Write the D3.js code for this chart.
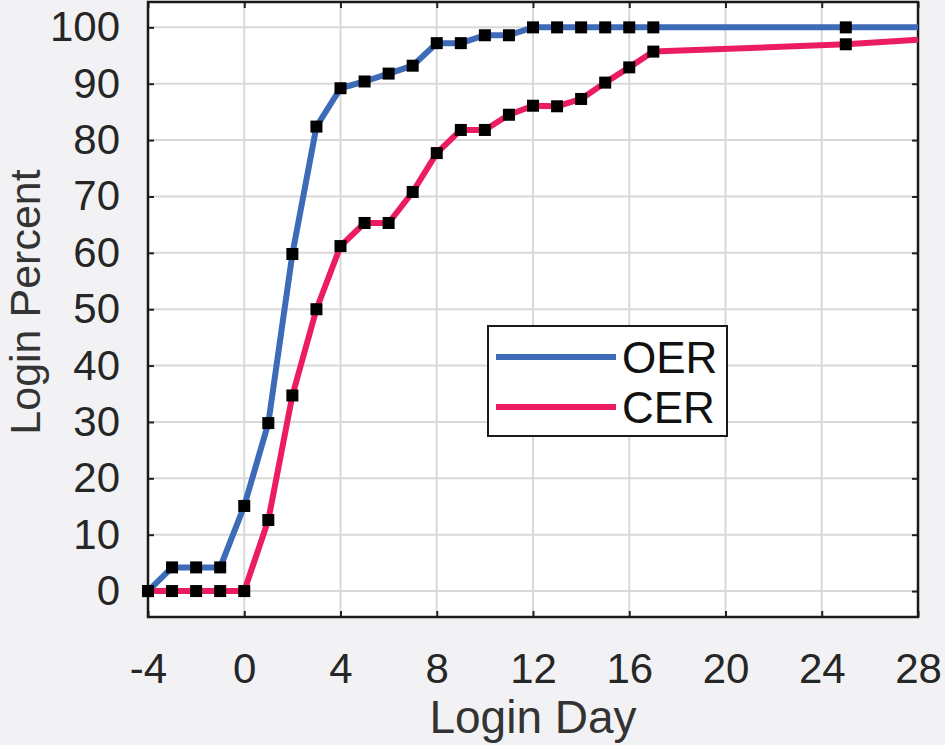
<!DOCTYPE html>
<html>
<head>
<meta charset="utf-8">
<script src="https://cdn.jsdelivr.net/npm/d3@7"></script>
<style>
  body { margin: 0; background: #f2f2f4; }
  svg { display: block; font-family: "Liberation Sans", Arial, sans-serif; }
</style>
</head>
<body>
<div id="chart"></div>
<script>
// data
const days = [-4, -3, -2, -1, 0, 1, 2, 3, 4, 5, 6, 7, 8, 9, 10, 11, 12, 13, 14, 15, 16, 17, 25, 28];
const oer = [0, 4.2, 4.2, 4.2, 15.1, 29.8, 59.8, 82.4, 89.2, 90.4, 91.8, 93.2, 97.2, 97.2, 98.6, 98.6, 100, 100, 100, 100, 100, 100, 100, 100];
const cer = [0, 0, 0, 0, 0, 12.6, 34.7, 50, 61.2, 65.3, 65.3, 70.8, 77.7, 81.8, 81.8, 84.5, 86.1, 86.0, 87.3, 90.2, 92.9, 95.7, 97.0, 97.8];
// the last point (day 28) has no marker in the original
const markerCount = days.length - 1;
const xTicks = [-4, 0, 4, 8, 12, 16, 20, 24, 28];
const yTicks = [0, 10, 20, 30, 40, 50, 60, 70, 80, 90, 100];
const seriesNames = ["OER", "CER"];
const seriesColors = ["#3d6bb8", "#ec1c63"];

const width = 945, height = 745;
const margin = {top: 2, right: 27, bottom: 128, left: 148};

const svg = d3.select("#chart").append("svg")
    .attr("width", width)
    .attr("height", height);

svg.append("rect").attr("width", width).attr("height", height).attr("fill", "#f2f2f4");

const x = d3.scaleLinear().domain([-4, 28]).range([margin.left, width - margin.right]);
const y = d3.scaleLinear().domain([-4.6, 104.5]).range([height - margin.bottom, margin.top]);

// plot background
svg.append("rect")
    .attr("x", x(-4)).attr("y", y(104.5))
    .attr("width", x(28) - x(-4)).attr("height", y(-4.6) - y(104.5))
    .attr("fill", "#fff");

// grid
svg.append("g").selectAll("line").data(xTicks.slice(1, -1)).join("line")
    .attr("x1", d => x(d)).attr("x2", d => x(d))
    .attr("y1", y(104.5)).attr("y2", y(-4.6))
    .attr("stroke", "#d8d8d8").attr("stroke-width", 2);
svg.append("g").selectAll("line").data(yTicks).join("line")
    .attr("x1", x(-4)).attr("x2", x(28))
    .attr("y1", d => y(d)).attr("y2", d => y(d))
    .attr("stroke", "#d8d8d8").attr("stroke-width", 2);

// axes with inward ticks
const axisStyle = g => {
  g.select(".domain").remove();
  g.selectAll(".tick line").attr("stroke", "#222").attr("stroke-width", 2);
  g.selectAll(".tick text").attr("fill", "#262626").attr("font-size", 42);
};
const plain = d => String(d);
svg.append("g").attr("transform", `translate(0,${y(-4.6)})`)
    .call(d3.axisBottom(x).tickValues(xTicks).tickSizeInner(-6).tickSizeOuter(0).tickPadding(36).tickFormat(plain))
    .call(axisStyle);
svg.append("g").attr("transform", `translate(0,${y(104.5)})`)
    .call(d3.axisTop(x).tickValues(xTicks).tickSizeInner(-6).tickSizeOuter(0).tickFormat(""))
    .call(axisStyle);
svg.append("g").attr("transform", `translate(${x(-4)},0)`)
    .call(d3.axisLeft(y).tickValues(yTicks).tickSizeInner(-6).tickSizeOuter(0).tickPadding(28).tickFormat(plain))
    .call(axisStyle);
svg.append("g").attr("transform", `translate(${x(28)},0)`)
    .call(d3.axisRight(y).tickValues(yTicks).tickSizeInner(-6).tickSizeOuter(0).tickFormat(""))
    .call(axisStyle);

// box
svg.append("rect")
    .attr("x", x(-4)).attr("y", y(104.5))
    .attr("width", x(28) - x(-4)).attr("height", y(-4.6) - y(104.5))
    .attr("fill", "none").attr("stroke", "#1a1a1a").attr("stroke-width", 2.5);

// lines
const line = d3.line().x(d => x(d[0])).y(d => y(d[1]));
[oer, cer].forEach((vals, i) => {
  const pts = days.map((d, j) => [d, vals[j]]);
  svg.append("path").datum(pts)
      .attr("d", line)
      .attr("fill", "none")
      .attr("stroke", seriesColors[i])
      .attr("stroke-width", 6)
      .attr("stroke-linejoin", "round");
});
[oer, cer].forEach(vals => {
  const pts = days.slice(0, markerCount).map((d, j) => [d, vals[j]]);
  svg.append("g").selectAll("rect").data(pts).join("rect")
      .attr("x", d => x(d[0]) - 6).attr("y", d => y(d[1]) - 6)
      .attr("width", 12).attr("height", 12)
      .attr("fill", "#000");
});

// axis labels
svg.append("text")
    .attr("x", (x(-4) + x(28)) / 2).attr("y", 733)
    .attr("text-anchor", "middle").attr("font-size", 46).attr("fill", "#333")
    .text("Login Day");
svg.append("text")
    .attr("transform", `translate(40,302) rotate(-90)`)
    .attr("text-anchor", "middle").attr("font-size", 43).attr("fill", "#333")
    .text("Login Percent");

// legend
const legend = svg.append("g");
legend.append("rect")
    .attr("x", 488).attr("y", 326).attr("width", 239).attr("height", 110)
    .attr("fill", "#fff").attr("stroke", "#1a1a1a").attr("stroke-width", 2);
seriesNames.forEach((name, i) => {
  const ly = 357 + i * 50;
  legend.append("line")
      .attr("x1", 496).attr("x2", 616).attr("y1", ly).attr("y2", ly)
      .attr("stroke", seriesColors[i]).attr("stroke-width", 6);
  legend.append("text")
      .attr("x", 622).attr("y", ly + 16)
      .attr("font-size", 44).attr("fill", "#111")
      .text(name);
});
</script>
</body>
</html>
